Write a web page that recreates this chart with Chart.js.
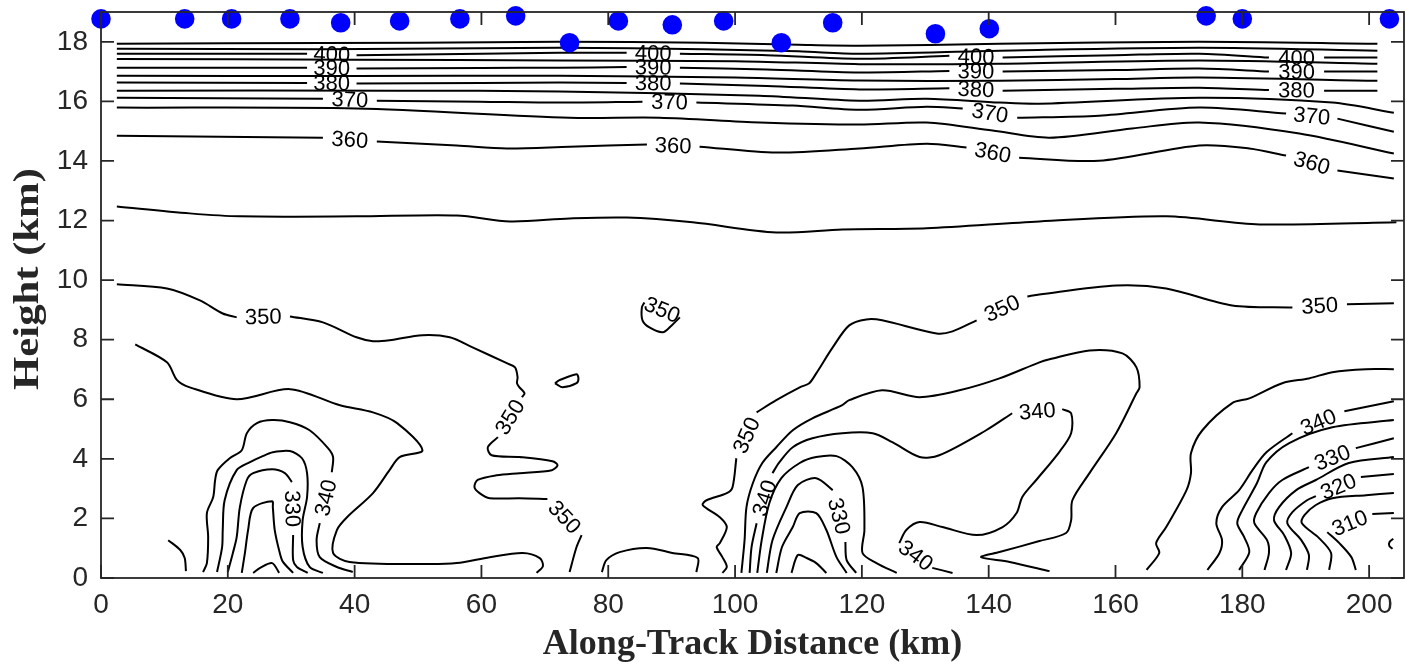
<!DOCTYPE html>
<html>
<head>
<meta charset="utf-8">
<script src="https://cdn.jsdelivr.net/npm/chart.js@4/dist/chart.umd.min.js"></script>
<style>
  html, body { margin: 0; padding: 0; background: #ffffff; }
  #wrap { width: 1406px; height: 666px; }
</style>
</head>
<body>
<div id="wrap"><canvas id="c" width="1406" height="666"></canvas></div>
<script>
// Sampling dots along the flight track (km, km)
const dotDistance = [0, 13.2, 20.6, 29.8, 37.8, 47.1, 56.6, 65.4, 73.9, 81.6, 90.1, 98.2, 107.3, 115.4, 131.6, 140.1, 174.3, 180.0, 203.2];
const dotHeight   = [18.77, 18.77, 18.77, 18.77, 18.64, 18.70, 18.77, 18.87, 17.97, 18.70, 18.57, 18.70, 17.97, 18.64, 18.27, 18.44, 18.87, 18.77, 18.77];

const xTickValues = [0, 20, 40, 60, 80, 100, 120, 140, 160, 180, 200];
const yTickValues = [0, 2, 4, 6, 8, 10, 12, 14, 16, 18];

const xTitle = 'Along-Track Distance (km)';
const yTitle = 'Height (km)';

// Potential temperature isolines (K). Each isoline is a list of pieces of
// [distance km, height km]; a label sits in every gap between two pieces.
const theta410 = [[[2.5,17.93],[20,17.95],[50,17.97],[72.3,18.0],[95,17.97],[110,17.9],[119.6,17.87],[141.7,17.93],[173.2,18.0],[201.3,17.93]]];
const theta405 = [[[2.5,17.77],[35,17.75],[72.3,17.8],[95,17.75],[110,17.68],[119.6,17.6],[141.7,17.7],[173.2,17.8],[201.3,17.7]]];
const theta400 = [
  [[2.5,17.6],[32.5,17.6]],
  [[40.3,17.55],[60,17.6],[72.3,17.63],[82.9,17.63]],
  [[91.3,17.6],[105,17.55],[119.6,17.43],[133.8,17.53]],
  [[142.2,17.47],[160,17.55],[173.2,17.6],[184.2,17.47]],
  [[192.9,17.47],[201.3,17.47]]
];
const theta395 = [[[2.5,17.42],[40,17.4],[72.3,17.37],[100,17.35],[119.6,17.25],[141.7,17.26],[173.2,17.37],[201.3,17.26]]];
const theta390 = [
  [[2.5,17.13],[32.5,17.13]],
  [[40.3,17.1],[60,17.12],[72.3,17.13],[82.9,17.15]],
  [[91.3,17.13],[105,17.07],[119.6,16.97],[133.8,17.02]],
  [[142.2,17.0],[160,17.05],[173.2,17.1],[184.2,17.0]],
  [[192.9,17.0],[201.3,17.0]]
];
const theta385 = [[[2.5,16.86],[40,16.85],[72.3,16.86],[100,16.8],[119.6,16.7],[141.7,16.69],[160,16.75],[173.2,16.8],[201.3,16.69]]];
const theta380 = [
  [[2.5,16.63],[32.5,16.62]],
  [[40.3,16.6],[60,16.62],[72.3,16.63],[82.9,16.62]],
  [[91.3,16.6],[105,16.52],[119.6,16.4],[133.8,16.44]],
  [[142.2,16.36],[160,16.42],[173.2,16.46],[184.2,16.38]],
  [[192.9,16.36],[201.3,16.36]]
];
const theta375 = [[[2.5,16.36],[47.1,16.36],[72.3,16.33],[103.9,16.19],[119.6,16.02],[130.2,16.09],[141.7,15.96],[148,15.92],[173.2,16.12],[194.2,15.96],[203.9,15.62]]];
const theta370 = [
  [[2.5,16.12],[35,16.09]],
  [[43.5,16.02],[59.7,15.99],[72.3,15.96],[85.4,15.99]],
  [[93.9,15.96],[109.1,15.86],[119.6,15.72],[130.2,15.82],[135.9,15.76]],
  [[144.5,15.45],[157.4,15.52],[173.2,15.79],[186.9,15.59]],
  [[195,15.42],[203.9,14.98]]
];
const theta365 = [[[2.5,15.79],[40.3,15.76],[73.9,15.45],[88.1,15.45],[103.9,15.29],[119.6,15.22],[130.2,15.29],[140.6,15.02],[149.6,14.78],[162.6,15.09],[173.2,15.29],[189,14.92],[203.9,14.25]]];
const theta360 = [
  [[2.5,14.85],[35,14.78]],
  [[43.5,14.65],[56.1,14.52],[64,14.42],[73.9,14.48],[86.1,14.55]],
  [[94.4,14.48],[106.5,14.28],[119.6,14.42],[130.2,14.58],[136.5,14.45]],
  [[144.8,14.11],[157.4,14.01],[173.2,14.52],[181.1,14.42],[186.9,14.18]],
  [[195,13.68],[203.9,13.41]]
];
const theta355 = [[[2.5,12.47],[14,12.24],[21.9,12.14],[40.3,12.14],[56.1,12.17],[64.5,11.97],[73.9,12.07],[82.9,12.1],[93.3,11.94],[106.5,11.6],[116.9,11.7],[130.2,11.74],[148,11.97],[168,12.14],[182.7,11.87],[204.3,11.94]]];

const theta350West = [
  [[2.5,9.86],[10.4,9.72],[15.6,9.32],[19.2,8.88],[21.4,8.75]],
  [[29.8,8.78],[35,8.58],[40.3,8.08],[42.9,7.95],[45.5,7.98],[50.7,8.15],[55,8.08],[58.6,7.74],[64,7.21],[65.3,7.07],[65.7,6.74],[65.6,6.54],[66,6.4],[66.8,6.2],[66.4,6.07]],
  [[62.6,4.73],[61,4.39],[61.6,4.12],[66,4.06],[71.2,3.92],[72,3.79],[71.1,3.62],[66,3.52],[62.4,3.45],[59.4,3.29],[58.9,3.05],[59.7,2.85],[61.3,2.68],[66,2.68],[70.4,2.65]],
  [[75.8,1.44],[75,1.04],[73.9,0.2]]
];
const theta350East = [
  [[98,0.17],[98.7,0.37],[98,0.7],[97.1,1.04],[97.6,1.17],[98.7,1.71],[97.6,2.04],[94.9,2.45],[95.5,2.61],[98.7,2.85],[99.6,3.05],[100.2,4.02]],
  [[103.4,5.56],[106.5,5.97],[110.2,6.4],[111.7,6.54],[112.8,6.87],[115.4,7.74],[118,8.48],[120.7,8.68],[123.2,8.65],[131.8,8.21],[134.3,8.28],[138.1,8.65]],
  [[146.1,9.45],[148,9.52],[160.1,9.82],[168,9.72],[178.4,9.15],[187.9,9.08]],
  [[196.5,9.19],[203.9,9.22]]
];
const theta350Ring = [[[91.3,8.75],[90,8.48],[88.6,8.25],[86.5,8.41],[85.4,8.65],[85.3,9.08],[85.7,9.25]]];
const theta350Islet = [[[71.6,6.54],[72.3,6.64],[75,6.84],[75.3,6.7],[75,6.54],[72.8,6.4],[71.9,6.5],[71.6,6.54]]];
const theta350Arc = [[[79,0.2],[79.7,0.6],[81.8,0.87],[86.1,1.01],[90.1,0.84],[94.1,0.67],[93.9,0.2]]];

const theta345West = [[[5.4,7.84],[10.4,7.24],[12,6.64],[14,6.4],[21.4,6.0],[29.8,6.34],[37.7,5.8],[42.9,5.56],[46.7,5.2],[50.7,4.29],[47.1,4.06],[45.5,3.62],[42.9,2.85],[38.8,2.04],[37.2,1.61],[36.6,0.84],[39.2,0.54],[50.7,0.47],[56.1,0.5],[61.3,0.7],[66.5,0.84],[69.2,0.67],[69.7,0.4],[68.7,0.17]]];
const theta345Stub = [[[10.6,1.27],[12.5,0.94],[13.2,0.67],[13.4,0.23]]];
const theta345Mid = [[[101,0.17],[101.5,1.27],[101.8,2.38],[102.8,3.18],[104.3,3.86],[106.5,4.39],[109.1,4.96],[112.2,5.36],[116.9,5.8],[118,5.97],[123.2,6.3],[129.1,6.07],[135.4,6.3],[141.7,6.7],[148,7.24],[149.6,7.34],[155.9,7.64],[161.1,7.54],[163.3,7.07],[163.8,6.4],[163.3,6.2],[160.1,4.86],[155.9,3.52],[153.2,2.61],[153,1.94],[152.2,1.51],[148,1.24],[141.7,0.87],[138.8,0.7],[143.3,0.54],[149.6,0.23]]];
const theta345East = [[[164.9,0.27],[166.9,0.84],[166.4,1.17],[168,1.71],[171.2,2.95],[171.9,3.52],[171.9,4.19],[173.7,4.96],[178.4,5.87],[181.1,6.03],[186.3,6.54],[190.5,6.7],[194.2,6.91],[199.5,7.01],[203.9,7.01]]];

const theta340West = [
  [[16.1,0.2],[16.7,0.5],[16.9,1.37],[16.7,2.18],[17.7,2.72],[18,3.29],[18.4,3.62],[20.3,4.02],[22.2,4.29],[23,4.86],[24.6,5.2],[27,5.3],[29.8,5.23],[32.9,4.96],[35.8,4.36],[36.6,4.06],[36.4,3.55]],
  [[34.5,1.84],[34,1.27],[34.5,0.7],[37.2,0.37],[39.7,0.2]]
];
const theta340Mid = [
  [[102.3,0.17],[102.6,1.04],[103.4,1.84]],
  [[105.9,3.52],[107,3.89],[109.1,4.39],[112.2,4.69],[116.9,4.86],[121.7,4.86],[124.8,4.56],[129.1,4.06],[132.2,4.12],[139.6,4.96],[143.7,5.53]],
  [[151.6,5.67],[153,5.53],[153,4.86],[151.1,4.22],[147.5,3.29],[145.3,2.72],[144.4,2.18],[142.2,1.71],[138.1,1.44],[132.7,1.71],[129.1,1.88],[127,1.61],[125.9,1.17]],
  [[131.1,0.34],[134.3,0.17]]
];
const theta340East = [
  [[174.5,0.27],[176.4,0.84],[176.8,1.27],[175.9,1.84],[176.8,2.38],[179.5,2.95],[181.6,3.62],[183.8,4.22],[187.9,4.86]],
  [[196.1,5.6],[203.9,5.93]]
];

const theta335West = [[[18.3,0.2],[19.1,1.04],[19.2,1.61],[19.5,2.61],[21.4,3.62],[23.5,3.89],[25.5,4.09],[27.1,4.22],[29.8,4.26],[31.7,4.02],[32.5,3.52],[32.5,2.72],[31.8,1.94],[31.8,1.04],[32.9,0.37],[35,0.17]]];
const theta335Mid = [[[103.5,0.17],[104.2,1.27],[105.4,2.51],[107.3,3.35],[110.2,3.86],[112.8,4.06],[116,4.09],[118.5,3.72],[120.1,3.05],[120.4,1.61],[120.1,0.84],[122.3,0.5],[125.5,0.17]]];
const theta335East = [[[179.5,0.27],[181.1,0.87],[180.3,1.37],[179.2,1.84],[180,2.28],[182.3,3.18],[183.8,3.89],[187.4,4.53],[194.2,5.06],[203.9,5.3]]];

const theta330West = [
  [[20,0.2],[20.8,0.84],[21.4,1.37],[21.9,2.38],[23,3.29],[24,3.52],[27,3.65],[29,3.52],[30.1,3.22]],
  [[30.3,1.44],[30.3,0.6],[30.9,0.37],[32.6,0.17]]
];
const theta330Mid = [
  [[105,0.17],[105.9,1.27],[108.1,2.38],[109.9,3.12],[112.8,3.35],[115.4,2.95]],
  [[117.4,1.21],[117.6,0.6],[119.1,0.17]]
];
const theta330East = [
  [[183.5,0.27],[184.2,0.84],[183.9,1.27],[181.9,1.84],[182.2,2.18],[184.2,2.85],[186.3,3.29],[190.5,3.72]],
  [[197.9,4.36],[203.9,4.69]]
];

const theta325West = [[[22.2,0.17],[22.7,0.84],[23.2,1.61],[24,2.35],[27,2.58],[27.1,2.38],[27.4,1.61],[28.2,0.84],[28.7,0.54],[30.3,0.17]]];
const theta325Mid = [[[106.5,0.17],[107.4,1.04],[109.1,1.71],[110.2,2.18],[112.8,2.18],[114.4,1.61],[116,0.7],[117.6,0.17]]];
const theta325East = [[[186.9,0.27],[187.7,0.84],[186.6,1.44],[185,1.94],[185.8,2.38],[188.5,2.95],[191.6,3.29],[196.8,3.86],[203.9,4.06]]];

const theta320West = [[[24,0.17],[25.1,0.34],[27,0.5],[28.1,0.17]]];
const theta320Mid = [[[108.9,0.17],[109.9,0.77],[111.3,0.67],[112.8,0.5],[114.4,0.17]]];
const theta320East = [
  [[190.2,0.27],[190.5,0.77],[189.3,1.27],[187.1,1.84],[187.9,2.21],[190.2,2.61],[191.6,2.75]],
  [[198.7,3.39],[203.9,3.49]]
];
const theta315East = [[[193.7,0.27],[194,0.84],[192.1,1.34],[189.4,1.84],[189.8,2.11],[191.6,2.45],[194.2,2.68],[199.5,2.78],[203.9,2.85]]];
const theta310East = [
  [[197.9,0.27],[197.2,0.7],[195.3,1.17],[193.4,1.54]],
  [[200.5,2.15],[203.9,2.18]]
];
const theta305East = [[[203.8,1.32],[203.2,1.2],[203.2,1.07],[203.7,0.98]]];

const isolines = [
  { level: 410, pieces: theta410 }, { level: 405, pieces: theta405 },
  { level: 400, pieces: theta400 }, { level: 395, pieces: theta395 },
  { level: 390, pieces: theta390 }, { level: 385, pieces: theta385 },
  { level: 380, pieces: theta380 }, { level: 375, pieces: theta375 },
  { level: 370, pieces: theta370 }, { level: 365, pieces: theta365 },
  { level: 360, pieces: theta360 }, { level: 355, pieces: theta355 },
  { level: 350, pieces: theta350West }, { level: 350, pieces: theta350East },
  { level: 350, pieces: theta350Ring, ring: true },
  { level: 350, pieces: theta350Islet }, { level: 350, pieces: theta350Arc },
  { level: 345, pieces: theta345West }, { level: 345, pieces: theta345Stub },
  { level: 345, pieces: theta345Mid }, { level: 345, pieces: theta345East },
  { level: 340, pieces: theta340West }, { level: 340, pieces: theta340Mid }, { level: 340, pieces: theta340East },
  { level: 335, pieces: theta335West }, { level: 335, pieces: theta335Mid }, { level: 335, pieces: theta335East },
  { level: 330, pieces: theta330West }, { level: 330, pieces: theta330Mid }, { level: 330, pieces: theta330East },
  { level: 325, pieces: theta325West }, { level: 325, pieces: theta325Mid }, { level: 325, pieces: theta325East },
  { level: 320, pieces: theta320West }, { level: 320, pieces: theta320Mid }, { level: 320, pieces: theta320East },
  { level: 315, pieces: theta315East }, { level: 310, pieces: theta310East }, { level: 305, pieces: theta305East }
];

const INK = '#262626';

const datasets = [];
isolines.forEach(line => {
  line.pieces.forEach(piece => {
    datasets.push({
      data: piece.map(([x, y]) => ({ x, y })),
      showLine: true,
      borderColor: '#000000',
      borderWidth: 2,
      pointRadius: 0,
      tension: 0.3,
      order: 2
    });
  });
});
datasets.push({
  data: dotDistance.map((d, i) => ({ x: d, y: dotHeight[i] })),
  showLine: false,
  pointRadius: 9.8,
  pointBackgroundColor: '#0000ff',
  pointBorderWidth: 0,
  clip: false,
  order: 1
});

// Inline isoline labels, rotated along the gap they sit in
const isolineLabels = {
  id: 'isolineLabels',
  afterDatasetsDraw(chart) {
    const { ctx, scales: { x, y } } = chart;
    ctx.save();
    ctx.font = '22px "Liberation Sans", Arial, sans-serif';
    ctx.fillStyle = '#000000';
    ctx.textAlign = 'center';
    ctx.textBaseline = 'middle';
    isolines.forEach(line => {
      const gaps = [];
      for (let i = 0; i < line.pieces.length - 1; i++) {
        const a = line.pieces[i];
        gaps.push([a[a.length - 1], line.pieces[i + 1][0]]);
      }
      if (line.ring) {
        const last = line.pieces[line.pieces.length - 1];
        gaps.push([last[last.length - 1], line.pieces[0][0]]);
      }
      gaps.forEach(([p, q]) => {
        const x1 = x.getPixelForValue(p[0]), y1 = y.getPixelForValue(p[1]);
        const x2 = x.getPixelForValue(q[0]), y2 = y.getPixelForValue(q[1]);
        let ang = Math.atan2(y2 - y1, x2 - x1);
        if (ang > Math.PI / 2 + 1e-6) ang -= Math.PI;
        if (ang < -Math.PI / 2 - 1e-6) ang += Math.PI;
        ctx.save();
        ctx.translate((x1 + x2) / 2, (y1 + y2) / 2);
        ctx.rotate(ang);
        ctx.fillText(String(line.level), 0, 1);
        ctx.restore();
      });
    });
    ctx.restore();
  }
};

// Boxed axes with inward tick marks on all four sides
const axisBox = {
  id: 'axisBox',
  afterDatasetsDraw(chart) {
    const { ctx, chartArea: a, scales: { x, y } } = chart;
    const len = 13;
    ctx.save();
    ctx.strokeStyle = INK;
    ctx.lineWidth = 1.8;
    ctx.strokeRect(a.left, a.top, a.right - a.left, a.bottom - a.top);
    ctx.beginPath();
    xTickValues.forEach(v => {
      const px = x.getPixelForValue(v);
      ctx.moveTo(px, a.bottom); ctx.lineTo(px, a.bottom - len);
      ctx.moveTo(px, a.top); ctx.lineTo(px, a.top + len);
    });
    yTickValues.forEach(v => {
      const py = y.getPixelForValue(v);
      ctx.moveTo(a.left, py); ctx.lineTo(a.left + len, py);
      ctx.moveTo(a.right, py); ctx.lineTo(a.right - len, py);
    });
    ctx.stroke();
    ctx.restore();
  }
};

// Vertical axis title, set a little taller along its reading direction
const heightTitle = {
  id: 'heightTitle',
  afterDraw(chart) {
    const { ctx, chartArea: a } = chart;
    ctx.save();
    ctx.translate(29, (a.top + a.bottom) / 2 - 16);
    ctx.rotate(-Math.PI / 2);
    ctx.scale(1.22, 1);
    ctx.font = 'bold 35px "Liberation Serif", "Times New Roman", serif';
    ctx.fillStyle = INK;
    ctx.textAlign = 'center';
    ctx.textBaseline = 'middle';
    ctx.fillText(yTitle, 0, 0);
    ctx.restore();
  }
};

new Chart(document.getElementById('c'), {
  type: 'scatter',
  data: { datasets },
  options: {
    responsive: false,
    animation: false,
    devicePixelRatio: 1,
    events: [],
    layout: { autoPadding: false, padding: { top: 12, right: 2, left: 0, bottom: 0 } },
    plugins: { legend: { display: false }, tooltip: { enabled: false } },
    scales: {
      x: {
        type: 'linear', min: 0, max: 205.5,
        afterBuildTicks: s => { s.ticks = xTickValues.map(v => ({ value: v })); },
        afterFit: s => { s.height = 88; s.paddingLeft = 0; s.paddingRight = 0; },
        grid: { display: false, drawTicks: false },
        border: { display: false },
        ticks: {
          autoSkip: false, maxRotation: 0, padding: 10, color: INK,
          font: { family: 'Liberation Sans', size: 28 },
          callback: v => String(v)
        },
        title: {
          display: true, text: xTitle, color: INK,
          font: { family: 'Liberation Serif', size: 36, weight: 'bold' },
          padding: { top: 0, bottom: 0 }
        }
      },
      y: {
        type: 'linear', min: 0, max: 19,
        afterBuildTicks: s => { s.ticks = yTickValues.map(v => ({ value: v })); },
        afterFit: s => { s.width = 101; s.paddingTop = 0; s.paddingBottom = 0; },
        grid: { display: false, drawTicks: false },
        border: { display: false },
        ticks: {
          autoSkip: false, padding: 13, color: INK,
          font: { family: 'Liberation Sans', size: 28 },
          callback: v => String(v)
        },
        title: { display: false }
      }
    }
  },
  plugins: [isolineLabels, axisBox, heightTitle]
});
</script>
</body>
</html>
